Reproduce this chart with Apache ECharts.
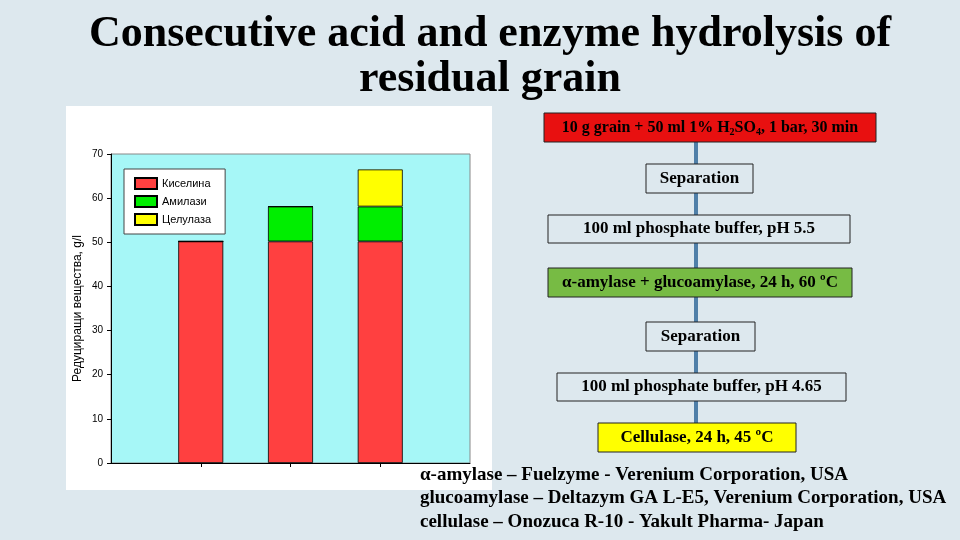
<!DOCTYPE html>
<html><head><meta charset="utf-8">
<script src="https://cdn.jsdelivr.net/npm/echarts@6/dist/echarts.min.js"></script>
<style>html,body{margin:0;padding:0;background:#dde8ee}#c{width:960px;height:540px}</style>
</head><body><div id="c"></div>
<script>
const categories = ['', 'A', 'B', 'C', ''];
const acid = [null, 50.2, 50.2, 50.2, null];
const amylase = [null, 0, 7.9, 7.9, null];
const cellulase = [null, 0, 0, 8.4, null];
const seriesNames = ['Киселина', 'Амилази', 'Целулаза'];
const yTicks = [0, 10, 20, 30, 40, 50, 60, 70];

const chart = echarts.init(document.getElementById('c'));
const TF = '"Liberation Serif","Times New Roman",serif';
function box(x1,y1,x2,y2,fill,text,fs){
  return {type:'group',children:[
    {type:'rect',shape:{x:x1,y:y1,width:x2-x1,height:y2-y1},style:{fill:fill,stroke:'#222',lineWidth:1}},
    {type:'text',x:(x1+x2)/2,y:(y1+y2)/2,style:{text:text,font:'bold '+(fs||17)+'px '+TF,fill:'#000',align:'center',verticalAlign:'middle'}}
  ]};
}
function line(y1,y2){return {type:'rect',shape:{x:694,y:y1,width:4,height:y2-y1},style:{fill:'#4f7fa8'}};}
const g = [
  {type:'rect',z:-10,shape:{x:66,y:106,width:426,height:384},style:{fill:'#ffffff'}},
  {type:'text',x:490,y:35,style:{text:'Consecutive acid and enzyme hydrolysis of',font:'bold 44px '+TF,fill:'#000',align:'center',verticalAlign:'middle'}},
  {type:'text',x:490,y:80,style:{text:'residual grain',font:'bold 44px '+TF,fill:'#000',align:'center',verticalAlign:'middle'}},
  line(142,164),line(193,215),line(243,268),line(297,322),line(351,373),line(401,423),
  {type:'group',children:[
    {type:'rect',shape:{x:544,y:113,width:332,height:29},style:{fill:'#e81010',stroke:'#222',lineWidth:1}},
    {type:'text',x:710,y:128,style:{text:'10 g grain + 50 ml 1% H{s|2}SO{s|4}, 1 bar, 30 min',font:'bold 16px '+TF,fill:'#000',align:'center',verticalAlign:'middle',rich:{s:{font:'bold 10px '+TF,padding:[8,0,0,0]}}}}
  ]},
  box(646,164,753,193,'rgba(0,0,0,0)','Separation'),
  box(548,215,850,243,'rgba(0,0,0,0)','100 ml phosphate buffer, pH 5.5'),
  box(548,268,852,297,'#77bb44','α-amylase + glucoamylase, 24 h, 60 ºC'),
  box(646,322,755,351,'rgba(0,0,0,0)','Separation'),
  box(557,373,846,401,'rgba(0,0,0,0)','100 ml phosphate buffer, pH 4.65'),
  box(598,423,796,452,'#ffff00','Cellulase, 24 h, 45 ºC'),
  {type:'text',x:420,y:475,style:{text:'α-amylase – Fuelzyme - Verenium Corporation, USA',font:'bold 19px '+TF,fill:'#000',verticalAlign:'middle'}},
  {type:'text',x:420,y:498,style:{text:'glucoamylase – Deltazym GA L-E5, Verenium Corporation, USA',font:'bold 19px '+TF,fill:'#000',verticalAlign:'middle'}},
  {type:'text',x:420,y:522,style:{text:'cellulase – Onozuca R-10 - Yakult Pharma- Japan',font:'bold 19px '+TF,fill:'#000',verticalAlign:'middle'}}
];
const colors = ['#ff4040','#00ee00','#ffff00'];
chart.setOption({
  animation:false,
  graphic:g,
  grid:{left:111,top:154,width:359,height:309,backgroundColor:'#a6f7f7',show:true,borderColor:'#888',borderWidth:1},
  legend:{left:124,top:169,orient:'vertical',icon:'rect',itemWidth:22,itemHeight:11,itemGap:5,padding:[8,14,8,10],backgroundColor:'#fff',borderColor:'#444',borderWidth:1,
    textStyle:{fontFamily:'Arial',fontSize:11,color:'#000'},data:seriesNames},
  xAxis:{type:'category',data:categories,boundaryGap:false,axisLabel:{show:false},
    axisLine:{lineStyle:{color:'#000'}},axisTick:{interval:(i)=>i>0&&i<4,length:4,lineStyle:{color:'#000'}},splitLine:{show:false}},
  yAxis:{type:'value',min:0,max:70,interval:10,name:'Редуциращи вещества, g/l',nameLocation:'middle',nameGap:27,
    nameTextStyle:{fontFamily:'Arial',fontSize:12,color:'#000'},
    axisLine:{show:true,lineStyle:{color:'#000'}},axisTick:{show:true,inside:false,length:4,lineStyle:{color:'#000'}},
    axisLabel:{fontFamily:'Arial',fontSize:10,color:'#000',formatter:v=>yTicks.includes(v)?v:''},splitLine:{show:false}},
  series:[acid,amylase,cellulase].map((d,i)=>({name:seriesNames[i],type:'bar',stack:'s',data:d,barWidth:45,
    itemStyle:{color:colors[i],borderColor:'#000',borderWidth:0.8}}))
});
</script></body></html>
